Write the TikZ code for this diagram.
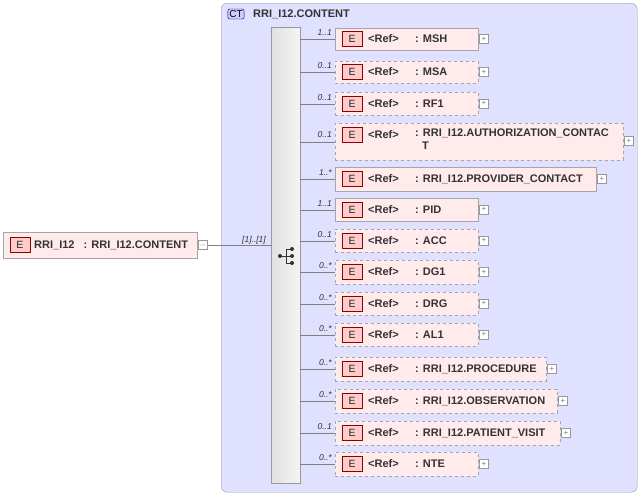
\documentclass[tikz,border=0pt]{standalone}
\usepackage{fontspec}
\setmainfont{Liberation Sans}
\begin{document}
\begin{tikzpicture}[x=1pt,y=-1pt,
  el/.style={draw=black!35,fill=red!8,line width=0.6pt},
  opt/.style={el,dashed},
  badge/.style={draw=red!55!black,fill=red!20,minimum width=20pt,minimum height=15pt,inner sep=0pt,font=\fontsize{10.5}{11}\selectfont,text=black!85},
  txt/.style={font=\bfseries\fontsize{11}{12.5}\selectfont,anchor=west,inner sep=0pt,text=black!80},
  mult/.style={font=\itshape\fontsize{8.5}{9}\selectfont,anchor=south east,inner sep=1pt,text=black!80},
  plus/.style={draw=black!40,fill=white,minimum size=9pt,inner sep=0pt,font=\fontsize{8}{8}\selectfont,text=black!50},
  ln/.style={draw=black!50,line width=0.5pt}]
\useasboundingbox (0,0) rectangle (642,496);
\node[draw=black!40,fill=blue!12,rounded corners=6pt,minimum width=416pt,minimum height=489pt,anchor=north west] (ct) at (221,3) {};
\node[draw=blue!50!black,fill=blue!20,rounded corners=2pt,font=\fontsize{10}{10}\selectfont,inner sep=1.5pt] (ctb) at (236,14) {CT};
\node[txt] (ctt) at (253,14) {RRI\_I12.CONTENT};
\node[draw=black!40,left color=black!12,right color=black!4,minimum width=29pt,minimum height=456pt,anchor=north west,inner sep=0pt] (seq) at (271,27) {};
% sequence icon
\draw[black!80,line width=0.8pt] (280,256) -- (286,256) (286,249) -- (286,263) (286,249)--(292,249) (286,256)--(292,256) (286,263)--(292,263);
\fill[black!80] (280,256) circle (2) (292,249) circle (2) (292,256) circle (2) (292,263) circle (2);
% root
\node[el,minimum width=194pt,minimum height=26pt,anchor=north west] (root) at (3,232) {};
\node[badge] (rb) at (20,245) {E};
\node[txt] (rt) at (34,245) {RRI\_I12\ \ \ : RRI\_I12.CONTENT};
\node[plus] (rm) at (203,245) {$-$};
\draw[ln] (rm) -- (seq.west |- rm);
\node[mult,anchor=south] at (254,245) {[1]..[1]};
\foreach \i/\t/\b/\r/\n/\m/\s/\name in {
 1/28/50/478/MSH/1..1/el/a,
 2/61/83/478/MSA/0..1/opt/b,
 3/92/115/478/RF1/0..1/opt/c,
 5/167/191/596/RRI\_I12.PROVIDER\_CONTACT/1..*/el/e,
 6/198/221/478/PID/1..1/el/f,
 7/229/252/478/ACC/0..1/opt/g,
 8/260/284/478/DG1/0..*/opt/h,
 9/292/315/478/DRG/0..*/opt/i,
 10/323/346/478/AL1/0..*/opt/j,
 11/357/381/546/RRI\_I12.PROCEDURE/0..*/opt/k,
 12/389/413/557/RRI\_I12.OBSERVATION/0..*/opt/l,
 13/421/445/560/RRI\_I12.PATIENT\_VISIT/0..1/opt/m,
 14/452/476/478/NTE/0..*/opt/n}{
  \pgfmathsetmacro\cy{(\t+\b)/2}
  \node[\s,minimum width={\r-335},minimum height={\b-\t},anchor=north west] (box\name) at (335,\t) {};
  \node[badge] (bd\name) at (352,\cy) {E};
  \node[txt] (rf\name) at (368,\cy) {<Ref>};
  \node[txt] (nm\name) at (415,\cy) {: \n};
  \node[plus] (p\name) at (\r+6,\cy) {+};
  \draw[ln] (seq.east |- box\name.west) -- (box\name.west);
  \node[mult] at (333,\cy-2) {\m};
}
% AUTH two lines
\node[opt,minimum width=288pt,minimum height=37pt,anchor=north west] (boxd) at (335,123) {};
\node[badge] (bdd) at (352,135) {E};
\node[txt] (rfd) at (368,135) {<Ref>};
\node[txt,anchor=north west,align=left] (nmd) at (415,129) {: RRI\_I12.AUTHORIZATION\_CONTAC\\\hspace*{7pt}T};
\node[plus] (pd) at (629,141) {+};
\draw[ln] (seq.east |- boxd.west) -- (boxd.west);
\node[mult] at (333,139) {0..1};
\end{tikzpicture}
\end{document}
